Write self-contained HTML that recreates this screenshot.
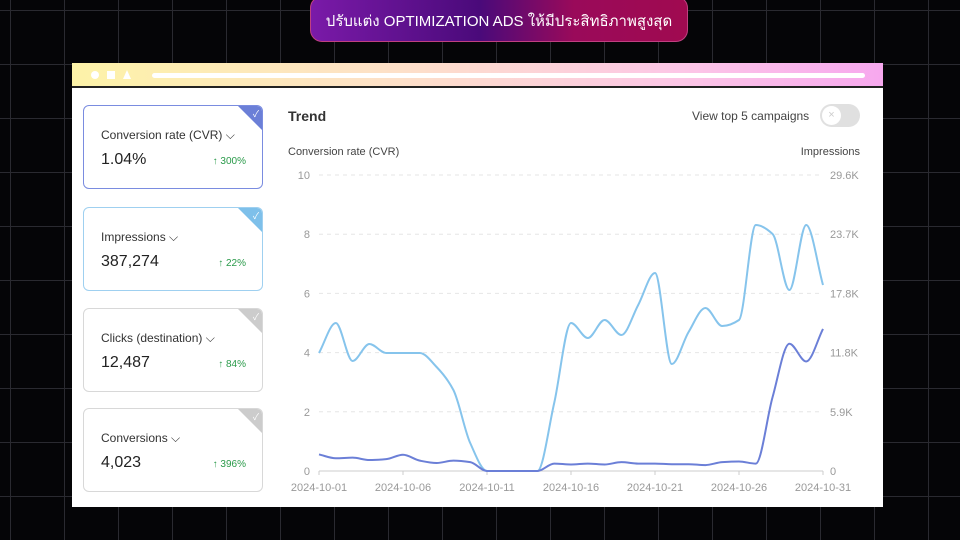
<!DOCTYPE html>
<html><head><meta charset="utf-8">
<style>
*{box-sizing:border-box;margin:0;padding:0}
body{width:960px;height:540px;overflow:hidden;background:#050507;font-family:"Liberation Sans","Noto Sans CJK SC",sans-serif;position:relative;
background-image:linear-gradient(#2a2a30 1px,transparent 1px),linear-gradient(90deg,#2a2a30 1px,transparent 1px);background-size:54px 54px;background-position:10px 10px}
.pill{position:absolute;left:310px;top:-4px;width:378px;height:46px;border-radius:12px;background:linear-gradient(90deg,#7a1aa8,#4a0a7a 45%,#9a0a5a 70%,#a00a50);border:1px solid #c04080;color:#fff;font-size:15px;display:flex;align-items:center;justify-content:center;padding-top:4px}
.win{position:absolute;left:72px;top:63px;width:811px;height:444px;background:#fff}
.bar{height:25px;background:linear-gradient(90deg,#fdf3a8,#fde0c8 40%,#fcc6e6 75%,#f7a8ee);border-bottom:2px solid #222;position:relative}
.bar .line{position:absolute;left:80px;right:18px;top:10px;height:5px;border-radius:3px;background:#fff}
.card{position:absolute;left:11px;width:180px;height:84px;border:1.5px solid #d8d8d8;border-radius:6px;background:#fff;overflow:hidden}
.card .t{position:absolute;left:17px;top:22px;font-size:12px;color:#333}
.card .v{position:absolute;left:17px;top:45px;font-size:16px;color:#222}
.card .p{position:absolute;right:16px;top:50px;font-size:10px;color:#2a9a4a}
.card .corner{position:absolute;right:0;top:0;width:0;height:0;border-top:24px solid #ccc;border-left:24px solid transparent}
.card .ck{position:absolute;right:3px;top:1px;color:#fff;font-size:9px}
</style></head><body>
<div class="pill">ปรับแต่ง OPTIMIZATION ADS ให้มีประสิทธิภาพสูงสุด</div>
<div class="win">
 <div class="bar">
  <div style="position:absolute;left:19px;top:8px;width:8px;height:8px;border-radius:50%;background:#fff"></div>
  <div style="position:absolute;left:35px;top:8px;width:8px;height:8px;background:#fff"></div>
  <div style="position:absolute;left:51px;top:7px;width:0;height:0;border-left:4px solid transparent;border-right:4px solid transparent;border-bottom:9px solid #fff"></div>
  <div class="line"></div>
 </div>
 <div class="card" style="top:42px;border-color:#7a8ce0"><div class="corner" style="border-top-color:#6b7fd7"></div><span class="ck">✓</span><div class="t">Conversion rate (CVR) ⌵</div><div class="v">1.04%</div><div class="p">↑ 300%</div></div>
 <div class="card" style="top:144px;border-color:#9fd0f0"><div class="corner" style="border-top-color:#7ec0ea"></div><span class="ck">✓</span><div class="t">Impressions ⌵</div><div class="v">387,274</div><div class="p">↑ 22%</div></div>
 <div class="card" style="top:245px"><div class="corner"></div><span class="ck">✓</span><div class="t">Clicks (destination) ⌵</div><div class="v">12,487</div><div class="p">↑ 84%</div></div>
 <div class="card" style="top:345px"><div class="corner"></div><span class="ck">✓</span><div class="t">Conversions ⌵</div><div class="v">4,023</div><div class="p">↑ 396%</div></div>
 <div style="position:absolute;left:216px;top:45px;font-size:14px;font-weight:bold;color:#333">Trend</div>
 <div style="position:absolute;left:620px;top:46px;font-size:12px;color:#444">View top 5 campaigns</div>
 <div style="position:absolute;left:748px;top:41px;width:40px;height:23px;border-radius:12px;background:#e0e0e0"><div style="position:absolute;left:2px;top:2px;width:19px;height:19px;border-radius:50%;background:#fff;color:#ccc;font-size:11px;text-align:center;line-height:19px">×</div></div>
</div>
<svg id="chart" width="960" height="540" style="position:absolute;left:0;top:0"></svg>
<script>
const dates=["2024-10-01","2024-10-06","2024-10-11","2024-10-16","2024-10-21","2024-10-26","2024-10-31"];
const leftTicks=[0,2,4,6,8,10];
const rightTicks=["0","5.9K","11.8K","17.8K","23.7K","29.6K"];
const cvr=[0.56,0.43,0.45,0.37,0.4,0.55,0.35,0.27,0.35,0.3,0,0,0,0,0.25,0.22,0.25,0.22,0.3,0.25,0.25,0.23,0.23,0.2,0.3,0.32,0.25,2.5,4.3,3.7,4.8];
const impK=[11.8,14.8,11.0,12.7,11.8,11.8,11.8,10.4,8.1,2.8,0,0,0,0,6.8,14.8,13.3,15.1,13.6,16.6,19.8,10.7,13.9,16.3,14.5,15.1,24.6,23.7,18.1,24.6,18.6];
const svg=document.getElementById('chart');const NS='http://www.w3.org/2000/svg';
const x0=319,x1=823,yB=471,yT=175;
const X=i=>x0+(x1-x0)*i/30;
const YL=v=>yB-(yB-yT)*v/10;
const YR=v=>yB-(yB-yT)*v/29.6;
function el(t,a,txt){const e=document.createElementNS(NS,t);for(const k in a)e.setAttribute(k,a[k]);if(txt!=null)e.textContent=txt;svg.appendChild(e);return e;}
const lab1=el('text',{x:288,y:155,'font-size':11,fill:'#444','font-family':'Liberation Sans'},'Conversion rate (CVR)');


const lab2=el('text',{x:860,y:155,'font-size':11,fill:'#444','text-anchor':'end','font-family':'Liberation Sans'},'Impressions');


leftTicks.forEach((v,i)=>{const y=YL(v);
 if(i>0){const g=el('line',{x1:x0,x2:x1,y1:y,y2:y,stroke:'#e6e6e6','stroke-dasharray':'4 4'});}
 const t=el('text',{x:310,y:y+4,'font-size':11,fill:'#999','text-anchor':'end','font-family':'Liberation Sans'},String(v));
 
 
 const r=el('text',{x:830,y:y+4,'font-size':11,fill:'#999','font-family':'Liberation Sans'},rightTicks[i]);
 
 
});
const ax=el('line',{x1:x0,x2:x1,y1:yB,y2:yB,stroke:'#ccc'});


dates.forEach((d,i)=>{const x=X(i*5);
 el('line',{x1:x,x2:x,y1:yB,y2:yB+4,stroke:'#ccc'});
 const t=el('text',{x:x,y:491,'font-size':11,fill:'#999','text-anchor':'middle','font-family':'Liberation Sans'},d);
 
 
});
function path(pts){const n=pts.length,m=[],s=[];
 for(let i=0;i<n-1;i++)s.push((pts[i+1][1]-pts[i][1])/(pts[i+1][0]-pts[i][0]));
 for(let i=0;i<n;i++){if(i==0)m.push(s[0]);else if(i==n-1)m.push(s[n-2]);else{const a=s[i-1],b=s[i];m.push(a*b<=0?0:(2*a*b)/(a+b));}}
 let d=`M${pts[0][0]},${pts[0][1]}`;
 for(let i=0;i<n-1;i++){const h=(pts[i+1][0]-pts[i][0])/3;
  d+=` C${pts[i][0]+h},${pts[i][1]+m[i]*h} ${pts[i+1][0]-h},${pts[i+1][1]-m[i+1]*h} ${pts[i+1][0]},${pts[i+1][1]}`;}
 return d;}
const l1=el('path',{d:path(impK.map((v,i)=>[X(i),YR(v)])),fill:'none',stroke:'#86c4ec','stroke-width':2});


const l2=el('path',{d:path(cvr.map((v,i)=>[X(i),YL(v)])),fill:'none',stroke:'#6b7fd7','stroke-width':2});


</script>
</body></html>
